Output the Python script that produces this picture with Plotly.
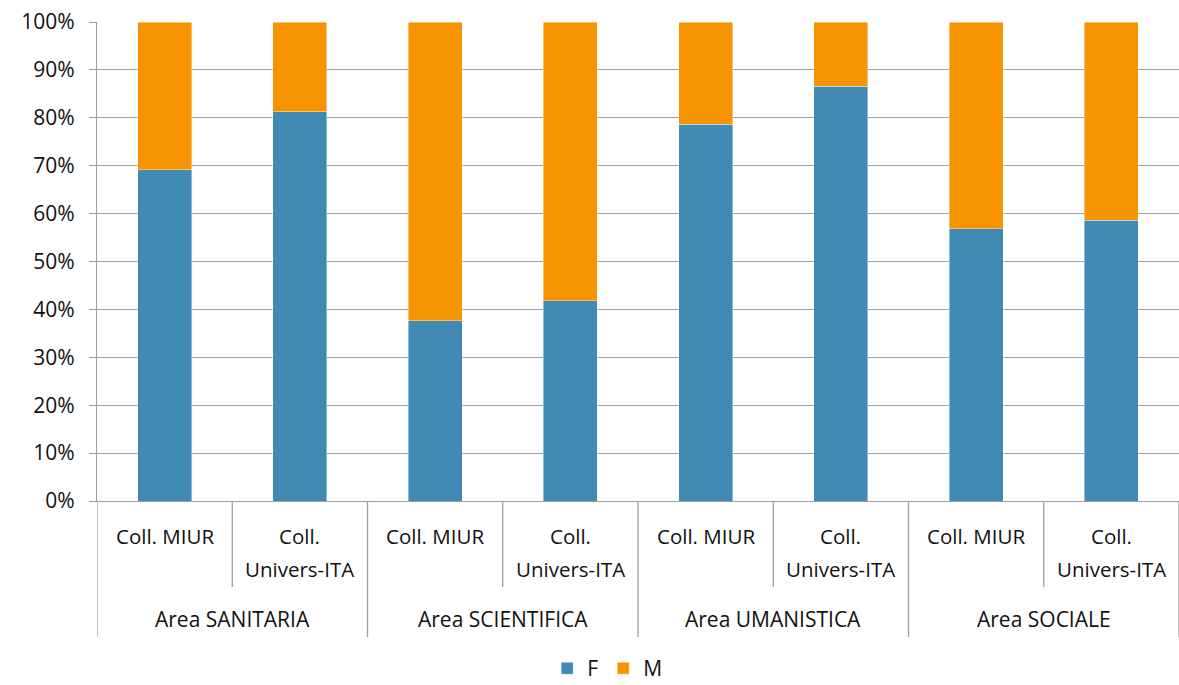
import plotly.graph_objects as go

# Share of women (F) and men (M) by area and collaborator type, in percent
areas = ["Area SANITARIA", "Area SCIENTIFICA", "Area UMANISTICA", "Area SOCIALE"]
collab_lines = [["Coll. MIUR"], ["Coll.", "Univers-ITA"]]
f_values = [69.2, 81.3, 37.6, 41.8, 78.7, 86.6, 56.8, 58.6]
m_values = [30.8, 18.7, 62.4, 58.2, 21.3, 13.4, 43.2, 41.4]
y_ticks = list(range(0, 101, 10))

BLUE = "#418AB3"
ORANGE = "#F59300"
GRID = "#9e9e9e"
FONT = "Open Sans"

n = len(f_values)
x_pos = list(range(n))

fig = go.Figure()
fig.add_trace(go.Bar(x=x_pos, y=f_values, name="F", marker_color=BLUE, width=0.4,
                     marker_line=dict(width=0.6, color="rgba(255,255,255,0.7)")))
fig.add_trace(go.Bar(x=x_pos, y=m_values, name="M", marker_color=ORANGE, width=0.4,
                     marker_line=dict(width=0.6, color="rgba(255,255,255,0.7)")))

plot_h = 479  # plot height in px, used to place labels below the axis

def py(px_below):
    return -px_below / plot_h

annotations = []
# inner category labels (one or two lines each)
for i in range(n):
    lines = collab_lines[i % 2]
    for k, txt in enumerate(lines):
        annotations.append(dict(x=i, y=py(35 + 33 * k), xref="x", yref="paper",
                                text=txt, showarrow=False, yanchor="middle",
                                font=dict(family=FONT, size=20.5, color="#111")))
# outer group labels
for g, name in enumerate(areas):
    annotations.append(dict(x=2 * g + 0.5, y=py(118), xref="x", yref="paper",
                            text=name, showarrow=False, yanchor="middle",
                            font=dict(family=FONT, size=21, color="#111")))

shapes = []
# dividers between categories
for b in range(n + 1):
    edge = b - 0.5
    depth = 136 if b % 2 == 0 else 86
    shapes.append(dict(type="line", xref="x", yref="paper", x0=edge, x1=edge,
                       y0=0, y1=py(depth), line=dict(color=GRID, width=1.3)))

fig.update_layout(
    width=1179, height=685,
    margin=dict(l=97, r=0, t=22, b=184, autoexpand=False),
    paper_bgcolor="white", plot_bgcolor="white",
    barmode="stack",
    showlegend=True,
    legend=dict(orientation="h", xref="container", yref="container",
                x=0.515, xanchor="center", y=0.024, yanchor="middle",
                traceorder="normal",
                font=dict(family=FONT, size=21, color="#111"),
                itemwidth=30, tracegroupgap=0),
    annotations=annotations,
    shapes=shapes,
    font=dict(family=FONT, size=20, color="#111"),
)
fig.update_xaxes(range=[-0.5, n - 0.5], showticklabels=False, showgrid=False,
                 zeroline=False, showline=True, linecolor=GRID, linewidth=1.3,
                 ticks="", fixedrange=True)
fig.update_yaxes(range=[0, 100], tickvals=y_ticks, ticktext=[f"{v}%" for v in y_ticks],
                 showgrid=True, gridcolor=GRID, gridwidth=1.3, zeroline=False,
                 showline=True, linecolor=GRID, linewidth=1.3,
                 ticks="outside", ticklen=7, tickcolor=GRID, tickwidth=1.3,
                 ticklabelstandoff=10,
                 tickfont=dict(family=FONT, size=21, color="#111"), fixedrange=True)

fig.write_html("out.html")
